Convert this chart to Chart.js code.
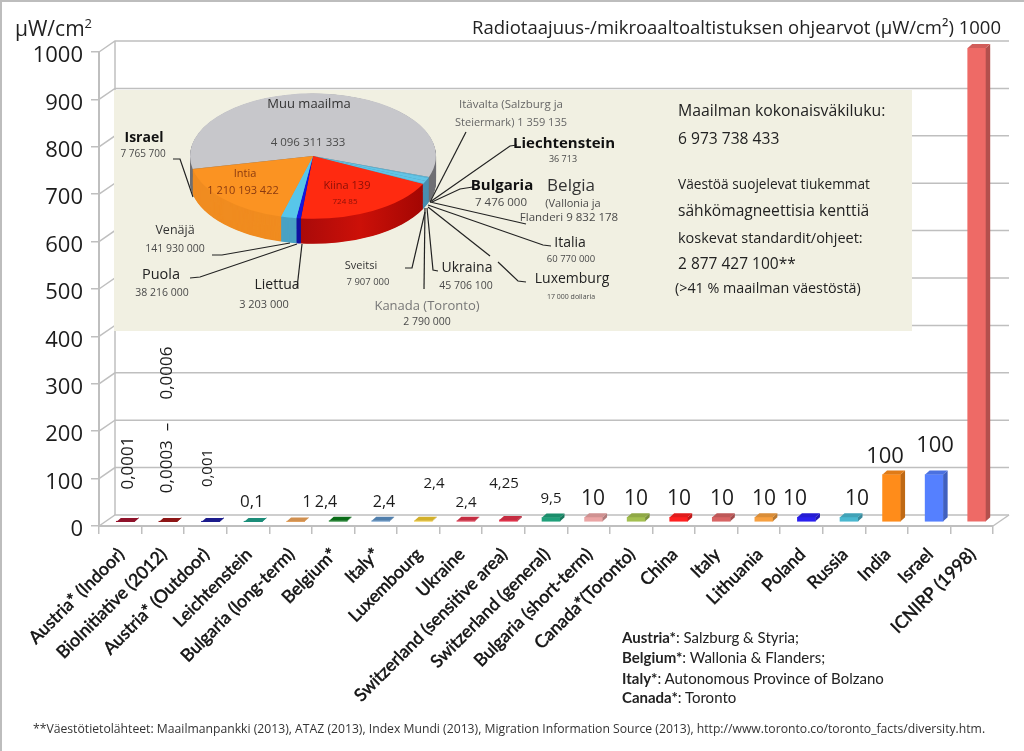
<!DOCTYPE html>
<html>
<head>
<meta charset="utf-8">
<title>Radiotaajuus-/mikroaaltoaltistuksen ohjearvot</title>
<script src="https://cdn.jsdelivr.net/npm/chart.js@4"></script>
<style>
  html, body { margin: 0; padding: 0; background: #fff; overflow: hidden; }
  #page { position: relative; width: 1024px; height: 751px; overflow: hidden; }
  #bars { position: absolute; left: 0; top: 0; }
  #panel { position: absolute; left: 114px; top: 90px; width: 798px; height: 241px; background: #f1f0e2; }
  #pie { position: absolute; left: 114px; top: 20px; }
  .note { position: absolute; white-space: pre; line-height: 1; color: #222; font-family: "Open Sans", sans-serif; }
  .frame { position: absolute; background: #bdbdbd; }
</style>
</head>
<body>
<div id="page">
  <canvas id="bars" width="1024" height="751"></canvas>
  <div id="panel"></div>
  <canvas id="pie" width="798" height="300"></canvas>
  <div class="frame" style="left:0;top:0;width:1024px;height:2px"></div>
  <div class="frame" style="left:0;top:0;width:2px;height:751px"></div>
</div>
<script>
// bar chart data
const categories = ['Austria* (Indoor)', 'BioInitiative (2012)', 'Austria* (Outdoor)', 'Leichtenstein',
  'Bulgaria (long-term)', 'Belgium*', 'Italy*', 'Luxembourg', 'Ukraine', 'Switzerland (sensitive area)',
  'Switzerland (general)', 'Bulgaria (short-term)', 'Canada*(Toronto)', 'China', 'Italy', 'Lithuania',
  'Poland', 'Russia', 'India', 'Israel', 'ICNIRP (1998)'];
const limits = [0.0001, 0.0003, 0.001, 0.1, 1, 2.4, 2.4, 2.4, 2.4, 4.25, 9.5, 10, 10, 10, 10, 10, 10, 10, 100, 100, 1000];
const barColors = ['#a31530', '#a01818', '#1f1f9f', '#1fa08a', '#eda45a', '#0a7a1a', '#5a8fc4', '#f0c830', '#e0324a',
  '#e0324a', '#1fa07a', '#eba5a5', '#a4c050', '#ff2020', '#d86464', '#f7a040', '#2a20f0', '#4ab8d0', '#ff8c1a', '#5580ff', '#ee6a66'];
const yTicks = [0, 100, 200, 300, 400, 500, 600, 700, 800, 900, 1000];

// pie chart data
const pieLabels = ['Muu maailma', 'Itävalta', 'Liechtenstein', 'Bulgaria', 'Belgia', 'Italia', 'Luxemburg', 'Ukraina',
  'Sveitsi', 'Kanada (Toronto)', 'Kiina', 'Liettua', 'Puola', 'Venäjä', 'Intia', 'Israel'];
const population = [4096311333, 1359135, 36713, 7476000, 9832178, 60770000, 17000, 45706100,
  7907000, 2790000, 1339724852, 3203000, 38216000, 141930000, 1210193422, 7765700];
const pieColors = ['#c7c7cb', '#62c4e6', '#62c4e6', '#62c4e6', '#62c4e6', '#62c4e6', '#62c4e6', '#62c4e6',
  '#62c4e6', '#62c4e6', '#ff2a10', '#1616e0', '#1616e0', '#58c6ea', '#fb9322', '#fb9322'];
const pieSideColors = ['#707074', '#4b8fb0', '#4b8fb0', '#4b8fb0', '#4b8fb0', '#4b8fb0', '#4b8fb0', '#4b8fb0',
  '#4b8fb0', '#4b8fb0', '#b80a06', '#1212a0', '#1212a0', '#4aa2c4', '#f08c20', '#f08c20'];

// 3d look of the bar chart
const DX = 16, DY = -11;        // front plane -> back wall
const BAR_DX = 5, BAR_DY = -4;  // bars stand a bit behind the front plane
const BAR_SIDE = 4.5, BAR_TOP = 4;
const gridColor = '#bfbfbf';

function shade(hex, f) {
  const n = parseInt(hex.slice(1), 16);
  const c = [n >> 16, (n >> 8) & 255, n & 255].map(v => Math.round(v * f));
  return `rgb(${c[0]},${c[1]},${c[2]})`;
}

function poly(ctx, pts, fill) {
  ctx.beginPath();
  pts.forEach((p, i) => i ? ctx.lineTo(p[0], p[1]) : ctx.moveTo(p[0], p[1]));
  ctx.closePath();
  ctx.fillStyle = fill;
  ctx.fill();
}

function line(ctx, pts) {
  ctx.beginPath();
  pts.forEach((p, i) => i ? ctx.lineTo(p[0], p[1]) : ctx.moveTo(p[0], p[1]));
  ctx.stroke();
}

// text above the bars: text, x, y, size, rotated
const valueNotes = [
  ['0,0001', 128, 463, 17, true],
  ['0,0003  –', 167, 458, 17, true],
  ['0,0006', 167, 373, 17, true],
  ['0,001', 208, 468, 15, true],
  ['0,1', 252, 502, 17],
  ['1', 307, 502, 16],
  ['2,4', 326, 502, 16],
  ['2,4', 384, 502, 16],
  ['2,4', 434, 484, 15],
  ['2,4', 466, 503, 15],
  ['4,25', 504, 484, 15],
  ['9,5', 551, 499, 15],
  ['10', 593, 499, 21],
  ['10', 636, 499, 21],
  ['10', 679, 499, 21],
  ['10', 722, 499, 21],
  ['10', 764, 499, 21],
  ['10', 795, 499, 21],
  ['10', 857, 499, 21],
  ['100', 885, 457, 22],
  ['100', 935, 446, 22]
];

const wallPlugin = {
  id: 'wall',
  beforeDraw(chart) {
    const { ctx, chartArea: a, scales } = chart;
    ctx.save();
    ctx.strokeStyle = gridColor;
    ctx.lineWidth = 1.5;
    yTicks.forEach(t => {
      const y = scales.y.getPixelForValue(t);
      line(ctx, [[a.left, y], [a.left + DX, y + DY], [a.right + DX, y + DY]]);
    });
    line(ctx, [[a.left + DX, a.top + DY], [a.left + DX, a.bottom + DY]]);
    line(ctx, [[a.right, a.bottom], [a.right + DX, a.bottom + DY]]);
    ctx.restore();
  },
  beforeDatasetsDraw(chart) {
    chart.ctx.save();
    chart.ctx.translate(BAR_DX, BAR_DY);
  },
  afterDatasetsDraw(chart) {
    const ctx = chart.ctx;
    chart.getDatasetMeta(0).data.forEach((bar, i) => {
      const l = bar.x - bar.width / 2, r = bar.x + bar.width / 2;
      poly(ctx, [[r, bar.y], [r + BAR_SIDE, bar.y - BAR_TOP], [r + BAR_SIDE, bar.base - BAR_TOP], [r, bar.base]], shade(barColors[i], 0.75));
      poly(ctx, [[l, bar.y], [r, bar.y], [r + BAR_SIDE, bar.y - BAR_TOP], [l + BAR_SIDE, bar.y - BAR_TOP]], shade(barColors[i], 0.88));
    });
    ctx.restore();
  },
  afterDraw(chart) {
    const ctx = chart.ctx;
    ctx.save();
    ctx.fillStyle = '#1c1c1c';
    ctx.textAlign = 'center';
    ctx.textBaseline = 'middle';
    valueNotes.forEach(([text, x, y, size, rotated]) => {
      ctx.save();
      ctx.translate(x, y);
      if (rotated) ctx.rotate(-Math.PI / 2);
      ctx.font = size + 'px "Open Sans"';
      ctx.fillText(text, 0, 0);
      ctx.restore();
    });
    ctx.restore();
  }
};

new Chart(document.getElementById('bars'), {
  type: 'bar',
  data: {
    labels: categories,
    datasets: [{ data: limits, backgroundColor: barColors, barThickness: 18, borderWidth: 0 }]
  },
  options: {
    responsive: false,
    animation: false,
    layout: { padding: { left: 0, right: 31, top: 52, bottom: 0 } },
    plugins: { legend: { display: false }, title: { display: false }, tooltip: { enabled: false } },
    scales: {
      x: {
        afterFit: s => { s.height = 225; },
        grid: { offset: true, drawOnChartArea: false, tickLength: 8, color: gridColor, lineWidth: 1.5 },
        border: { color: gridColor, width: 2 },
        ticks: {
          autoSkip: false, minRotation: 45, maxRotation: 45, padding: 10, labelOffset: 1, color: '#111',
          textStrokeColor: '#111', textStrokeWidth: 0.5,
          font: { family: 'Lato', size: 17.6 }
        }
      },
      y: {
        min: 0, max: 1000,
        afterFit: s => { s.width = 99; },
        afterBuildTicks: s => { s.ticks = yTicks.map(v => ({ value: v })); },
        grid: { drawOnChartArea: false, tickLength: 8, color: gridColor, lineWidth: 1.5 },
        border: { color: gridColor, width: 2 },
        ticks: { padding: 8, labelOffset: 4, color: '#1c1c1c', font: { family: 'Open Sans', size: 22 }, callback: v => String(v) }
      }
    }
  },
  plugins: [wallPlugin]
});

// leader lines of the pie labels, in page pixels
const leaders = [
  [[173, 159], [180, 159], [193, 197]],
  [[212, 255], [222, 255], [290, 243]],
  [[190, 278], [200, 277], [297, 244]],
  [[302, 244], [297, 288]],
  [[405, 268], [412, 268], [425, 212]],
  [[424, 289], [425, 208]],
  [[438, 271], [433, 270], [427, 208]],
  [[526, 282], [518, 281], [498, 262]],
  [[490, 256], [428, 207]],
  [[551, 246], [543, 245], [428, 205]],
  [[526, 224], [430, 202]],
  [[473, 187], [460, 189], [432, 202]],
  [[517, 145], [510, 146], [430, 202]],
  [[466, 132], [430, 202]]
];

const TILT = 0.51, PIE_DEPTH = 25;
const RED = 10; // index of Kiina, its side has a soft highlight
const piePlugin = {
  id: 'tiltedPie',
  beforeDatasetsDraw(chart) {
    const ctx = chart.ctx;
    const arcs = chart.getDatasetMeta(0).data;
    const cx = arcs[0].x, cy = arcs[0].y;
    const r = arcs[0].outerRadius;
    const redSide = ctx.createLinearGradient(cx - 15, 0, cx + r, 0);
    redSide.addColorStop(0, '#a80a0a');
    redSide.addColorStop(0.45, '#cc1008');
    redSide.addColorStop(1, '#9a0402');
    ctx.save();
    ctx.translate(cx, cy);
    ctx.scale(1, TILT);
    ctx.translate(-cx, -cy);
    for (let d = Math.round(PIE_DEPTH / TILT); d > 0; d--) {
      arcs.forEach((arc, i) => {
        ctx.beginPath();
        ctx.moveTo(cx, cy + d);
        ctx.arc(cx, cy + d, arc.outerRadius, arc.startAngle, arc.endAngle);
        ctx.closePath();
        ctx.fillStyle = i === RED ? redSide : pieSideColors[i];
        ctx.fill();
      });
    }
  },
  afterDatasetsDraw(chart) {
    const ctx = chart.ctx;
    ctx.restore();
    ctx.save();
    ctx.translate(-114, -20);
    ctx.strokeStyle = '#222';
    ctx.lineWidth = 1.2;
    leaders.forEach(pts => line(ctx, pts));
    ctx.restore();
  }
};

new Chart(document.getElementById('pie'), {
  type: 'pie',
  data: {
    labels: pieLabels,
    datasets: [{ data: population, backgroundColor: pieColors, borderWidth: 0, clip: false }]
  },
  options: {
    responsive: false,
    animation: false,
    rotation: 258,
    layout: { padding: { left: 76, right: 476, top: 13, bottom: 41 } },
    plugins: { legend: { display: false }, title: { display: false }, tooltip: { enabled: false } }
  },
  plugins: [piePlugin]
});

// all the other text on the page: html, centre x (or left x when align is 'l'), centre y, size, colour, align
function note(html, x, y, size, color, align) {
  const d = document.createElement('div');
  d.className = 'note';
  d.innerHTML = html;
  d.style.fontSize = size + 'px';
  d.style.left = x + 'px';
  d.style.top = y + 'px';
  d.style.transform = align === 'l' ? 'translateY(-50%)' : 'translate(-50%,-50%)';
  if (color) d.style.color = color;
  document.getElementById('page').appendChild(d);
  return d;
}

const grey = '#4a4a4a';
note('Muu maailma', 309, 103, 13, '#333');
note('4 096 311 333', 308, 142, 11.5, grey);
note('<b>Israel</b>', 144, 137, 14, '#111');
note('7 765 700', 143, 153, 10, grey);
note('Intia', 245, 172, 11, '#8a3a10');
note('1 210 193 422', 243, 189, 11, '#8a3a10');
note('Kiina 139', 347, 184, 11, '#8a1008');
note('724 85', 345, 201, 8, '#8a1008');
note('Venäjä', 175, 230, 12.5, '#333');
note('141 930 000', 175, 248, 10.5, grey);
note('Puola', 161, 274, 14.5, '#222');
note('38 216 000', 162, 292, 10.5, grey);
note('Liettua', 277, 284, 14, '#222');
note('3 203 000', 264, 303, 11, grey);
note('Sveitsi', 361, 264, 11, '#333');
note('7 907 000', 368, 282, 9.5, grey);
note('Ukraina', 467, 267, 14, '#222');
note('45 706 100', 466, 285, 10.5, grey);
note('Kanada (Toronto)', 427, 305, 13, '#777');
note('2 790 000', 427, 321, 10.5, grey);
note('Itävalta (Salzburg ja', 511, 104, 11.5, '#666');
note('Steiermark) 1 359 135', 511, 121, 11, '#666');
note('<b>Liechtenstein</b>', 564, 142, 15, '#111');
note('36 713', 563, 158, 9, grey);
note('<b>Bulgaria</b>', 502, 184, 15, '#111');
note('7 476 000', 501, 202, 11.5, grey);
note('Belgia', 571, 184, 17, '#333');
note('(Vallonia ja', 573, 202, 11, grey);
note('Flanderi 9 832 178', 569, 217, 11.5, grey);
note('Italia', 570, 242, 14, '#222');
note('60 770 000', 571, 259, 9.5, grey);
note('Luxemburg', 572, 278, 14, '#222');
note('17 000 dollaria', 571, 296, 7, grey);

note('Maailman kokonaisväkiluku:', 678, 111, 15.8, '#222', 'l');
note('6 973 738 433', 678, 139, 15.6, '#222', 'l');
note('Väestöä suojelevat tiukemmat', 678, 184, 13.7, '#222', 'l');
note('sähkömagneettisia kenttiä', 678, 211, 15.6, '#222', 'l');
note('koskevat standardit/ohjeet:', 678, 238, 14.5, '#222', 'l');
note('2 877 427 100**', 678, 264, 15.5, '#222', 'l');
note('(&gt;41 % maailman väestöstä)', 675, 288, 14.3, '#222', 'l');

note('µW/cm<sup style="font-size:13px;line-height:0">2</sup>', 15, 28, 21, '#222', 'l');
note('Radiotaajuus-/mikroaaltoaltistuksen ohjearvot (µW/cm²) 1000', 472, 27, 18.5, '#222', 'l');

[['<b>Austria*</b>: Salzburg &amp; Styria;', 637], ['<b>Belgium*</b>: Wallonia &amp; Flanders;', 657],
 ['<b>Italy*</b>: Autonomous Province of Bolzano', 678], ['<b>Canada*</b>: Toronto', 697]].forEach(([t, y]) => {
  note(t, 622, y, 15, '#222', 'l').style.fontFamily = 'Lato';
});
note('**Väestötietolähteet: Maailmanpankki (2013), ATAZ (2013), Index Mundi (2013), Migration Information Source (2013), http://www.toronto.co/toronto_facts/diversity.htm.', 33, 729, 12.2, '#333', 'l');
</script>
</body>
</html>
